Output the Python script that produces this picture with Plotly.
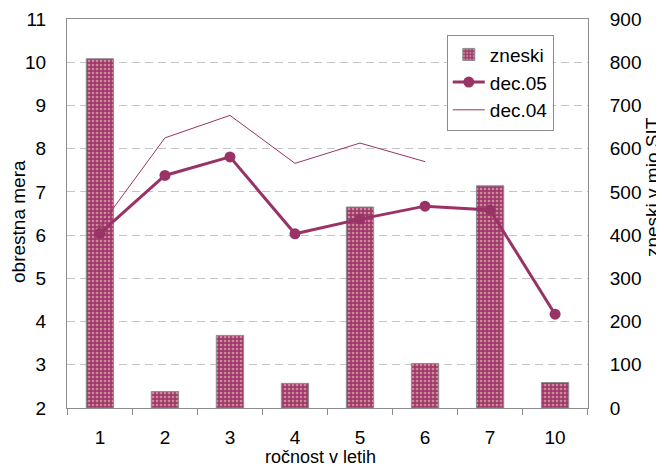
import plotly.graph_objects as go

categories = ["1", "2", "3", "4", "5", "6", "7", "10"]
zneski = [808, 38, 168, 57, 465, 103, 514, 59]
dec05 = [6.04, 7.38, 7.81, 6.03, 6.37, 6.67, 6.58, 4.17]
dec04 = [6.2, 8.25, 8.77, 7.66, 8.13, 7.70, None, None]

PLUM = "#993366"
AXIS = "#8C8C8C"
FONT = "Liberation Sans, Arial, sans-serif"

# page body has an 8px margin: figure is shrunk so it fits the window
W, H = 656, 462
L, R, T, B = 59, 76, 10.5, 61.5
PW, PH = W - L - R, H - T - B

fig = go.Figure()
fig.add_trace(go.Bar(
    x=categories, y=zneski, name="zneski", yaxis="y",
    marker=dict(color="#A0376E", line=dict(color=AXIS, width=1),
                pattern=dict(shape=".", fgcolor="#F4E7B8", bgcolor="#A0376E",
                             size=4, solidity=0.35)),
))
fig.add_trace(go.Scatter(
    x=categories, y=dec05, name="dec.05", yaxis="y2", mode="lines+markers",
    line=dict(color=PLUM, width=3), marker=dict(color=PLUM, size=11),
))
fig.add_trace(go.Scatter(
    x=categories, y=dec04, name="dec.04", yaxis="y2", mode="lines",
    line=dict(color=PLUM, width=1), connectgaps=False,
))

fig.update_layout(
    width=W, height=H,
    margin=dict(l=L, r=R, t=T, b=B, autoexpand=False),
    paper_bgcolor="white", plot_bgcolor="white",
    font=dict(family=FONT, size=19, color="black"),
    bargap=0.58,
    showlegend=True,
    legend=dict(x=0.729, y=0.96, xanchor="left", yanchor="top",
                bgcolor="white", bordercolor=AXIS, borderwidth=1,
                font=dict(size=19), traceorder="normal",
                tracegroupgap=0, itemwidth=32),
    xaxis=dict(
        type="category", tickson="boundaries", ticks="outside", ticklen=6,
        tickcolor=AXIS, showline=True, linecolor=AXIS, mirror=True,
        showgrid=False, automargin=False, ticklabelstandoff=12,
    ),
    yaxis=dict(
        side="right", range=[0, 900], dtick=100, showline=True,
        linecolor=AXIS, ticks="", showgrid=True, gridcolor="#C4C4C4",
        griddash="8px,5px", gridwidth=1, zeroline=False, automargin=False,
        ticklabelstandoff=17,
    ),
    yaxis2=dict(
        side="left", overlaying="y", range=[2, 11], dtick=1, showline=True,
        linecolor=AXIS, ticks="", showgrid=False, zeroline=False,
        automargin=False, ticklabelstandoff=16,
    ),
    annotations=[
        dict(text="obrestna mera", textangle=-90, showarrow=False,
             xref="paper", yref="paper", x=(11 - L) / PW, y=(400.5 - 214) / PH,
             xanchor="center", yanchor="middle", font=dict(size=19)),
        dict(text="zneski v mio SIT", textangle=-90, showarrow=False,
             xref="paper", yref="paper", x=(644 - L) / PW, y=(400.5 - 179) / PH,
             xanchor="center", yanchor="middle", font=dict(size=19)),
        dict(text="ročnost v letih", showarrow=False,
             xref="paper", yref="paper", x=(312 - L) / PW, y=(400.5 - H) / PH,
             xanchor="center", yanchor="bottom", font=dict(size=18)),
    ],
)

fig.write_html("out.html")
